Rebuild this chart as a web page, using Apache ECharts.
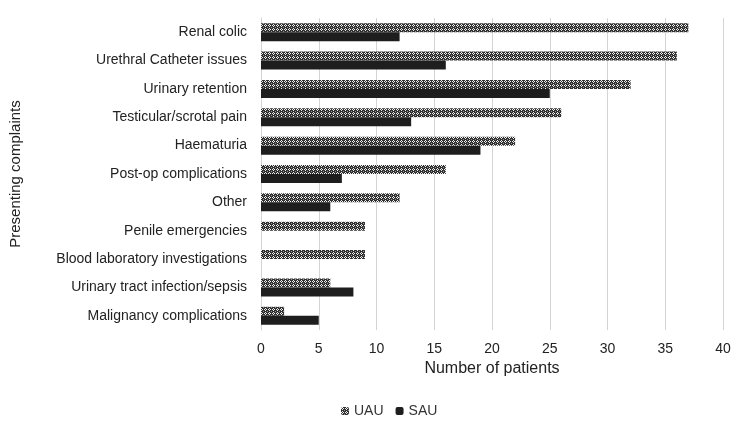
<!DOCTYPE html>
<html>
<head>
<meta charset="utf-8">
<script src="https://cdn.jsdelivr.net/npm/echarts@6/dist/echarts.min.js"></script>
<style>
  html, body { margin: 0; padding: 0; background: #fff; }
  #chart { width: 750px; height: 438px; }
</style>
</head>
<body>
<div id="chart"></div>
<script>
var complaints = [
  "Renal colic",
  "Urethral Catheter issues",
  "Urinary retention",
  "Testicular/scrotal pain",
  "Haematuria",
  "Post-op complications",
  "Other",
  "Penile emergencies",
  "Blood laboratory investigations",
  "Urinary tract infection/sepsis",
  "Malignancy complications"
];
var uauValues = [37, 36, 32, 26, 22, 16, 12, 9, 9, 6, 2];
var sauValues = [12, 16, 25, 13, 19, 7, 6, 0, 0, 8, 5];
var xTicks = [0, 5, 10, 15, 20, 25, 30, 35, 40];

// hatched fill for UAU bars
function makePattern() {
  var c = document.createElement("canvas");
  c.width = 4;
  c.height = 4;
  var ctx = c.getContext("2d");
  ctx.fillStyle = "#303030";
  ctx.fillRect(0, 0, 4, 4);
  ctx.fillStyle = "#f0f0f0";
  ctx.fillRect(1, 0, 1, 1);
  ctx.fillRect(0, 1, 1, 1);
  ctx.fillRect(2, 1, 1, 1);
  ctx.fillRect(1, 2, 1, 1);
  ctx.fillStyle = "#9a9a9a";
  ctx.fillRect(3, 3, 1, 1);
  return c;
}

var font = "'Liberation Sans', Arial, sans-serif";
var chart = echarts.init(document.getElementById("chart"));
var pattern = { image: makePattern(), repeat: "repeat" };

chart.setOption({
  animation: false,
  textStyle: { fontFamily: font },
  grid: { left: 258, right: 27, top: 18, bottom: 108, containLabel: false },
  legend: {
    bottom: 15,
    left: 336,
    itemWidth: 8,
    itemHeight: 8,
    itemGap: 12,
    textStyle: { fontSize: 14, color: "#333", fontFamily: font },
    data: ["UAU", "SAU"]
  },
  xAxis: {
    type: "value",
    min: xTicks[0],
    max: xTicks[xTicks.length - 1],
    interval: 5,
    name: "Number of patients",
    nameLocation: "middle",
    nameGap: 28,
    nameTextStyle: { fontSize: 16, color: "#222", fontFamily: font },
    axisLine: { show: false },
    axisTick: { show: false },
    axisLabel: { fontSize: 14, color: "#222", margin: 12 },
    splitLine: { lineStyle: { color: "#d4d4d4", width: 1 } }
  },
  yAxis: {
    type: "category",
    inverse: true,
    data: complaints,
    name: "Presenting complaints",
    nameLocation: "middle",
    nameGap: 238,
    nameRotate: 90,
    nameTextStyle: { fontSize: 15, color: "#222", fontFamily: font },
    axisLine: { show: true, lineStyle: { color: "#d4d4d4" } },
    axisTick: { show: false },
    axisLabel: { fontSize: 14, color: "#222", margin: 14 }
  },
  series: [
    {
      name: "UAU",
      type: "bar",
      data: uauValues,
      barWidth: 9,
      barGap: "0%",
      itemStyle: { color: pattern }
    },
    {
      name: "SAU",
      type: "bar",
      data: sauValues,
      barWidth: 9,
      itemStyle: { color: "#1e1e1e" }
    }
  ]
});
</script>
</body>
</html>
